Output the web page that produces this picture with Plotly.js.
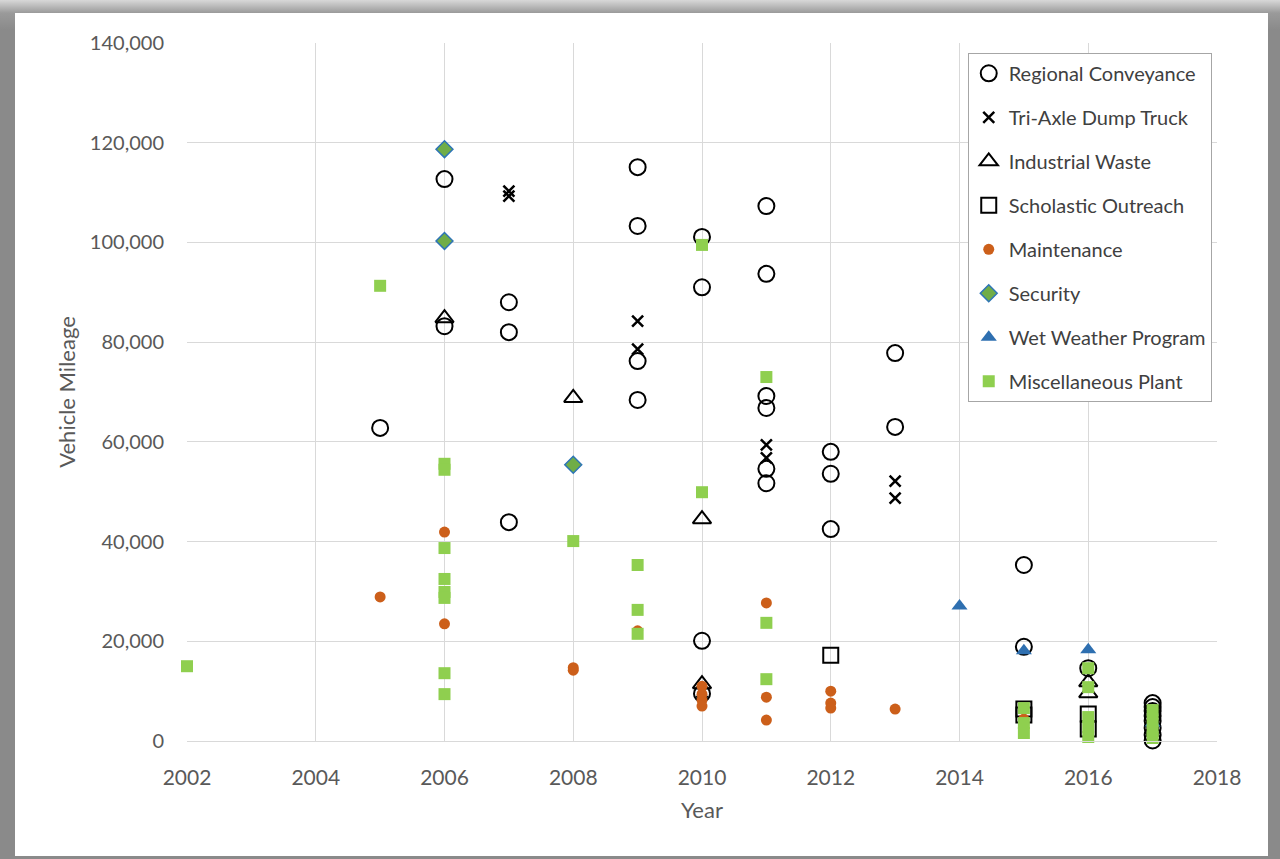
<!DOCTYPE html>
<html><head><meta charset="utf-8">
<script src="https://cdn.plot.ly/plotly-3.0.1.min.js"></script>
<style>
html,body{margin:0;padding:0;width:1280px;height:859px;overflow:hidden;background:#8a8a8a;}
body{background:linear-gradient(to bottom,#d8d8d8 0px,#9a9a9a 13px,#8a8a8a 30px);}
#frame{position:absolute;left:15px;top:13px;width:1253px;height:843px;background:#fff;}
#chart{width:1253px;height:843px;}
</style></head>
<body><div id="frame"><div id="chart"></div></div>
<script>
// Regional Conveyance
const rcX = [2005,2006,2006,2007,2007,2007,2009,2009,2009,2009,2010,2010,2010,2010,2011,2011,2011,2011,2011,2011,2012,2012,2012,2013,2013,2015,2015,2016,2017,2017,2017,2017,2017,2017,2017,2017];
const rcY = [62800,112700,83200,88000,82000,43900,115100,103300,76200,68400,101100,91000,20100,9500,107300,93700,69200,66800,54600,51700,58000,53600,42500,77800,63000,35300,18900,14600,7600,6800,6000,5000,4000,2600,1200,100];
// Tri-Axle Dump Truck
const taX = [2007,2007,2009,2009,2010,2011,2011,2013,2013,2017,2017];
const taY = [110300,109300,84200,78600,9800,59400,56800,52100,48700,3500,2000];
// Industrial Waste
const iwX = [2006,2008,2010,2010,2016,2016];
const iwY = [84800,68800,44500,11400,11800,9600];
// Scholastic Outreach
const soX = [2012,2015,2015,2016,2016];
const soY = [17200,6400,5200,5400,2400];
// Maintenance
const mtX = [2005,2006,2006,2008,2008,2009,2010,2010,2010,2010,2011,2011,2011,2012,2012,2012,2013,2015];
const mtY = [28900,41900,23500,14700,14200,22100,11000,9400,8200,7000,27700,8800,4200,10000,7600,6600,6400,4400];
// Security
const scX = [2006,2006,2008];
const scY = [118700,100300,55400];
// Wet Weather Program
const wwX = [2014,2015,2016,2017];
const wwY = [27100,18100,18300,3600];
// Miscellaneous Plant
const mpX = [2002,2005,2006,2006,2006,2006,2006,2006,2006,2006,2008,2009,2009,2009,2010,2010,2011,2011,2011,2015,2015,2015,2016,2016,2016,2016,2016,2017,2017,2017,2017];
const mpY = [15000,91300,55600,54400,38700,32500,29900,28700,13600,9400,40100,35300,26300,21500,99500,49900,73000,23700,12400,6600,3600,1600,14600,10800,4800,2800,800,6200,4000,2000,600];

const yTicks = [0,20000,40000,60000,80000,100000,120000,140000];
const xTicks = [2002,2004,2006,2008,2010,2012,2014,2016,2018];

const FONT = 'Lato, "Liberation Sans", sans-serif';
function tr(name,x,y,marker){
  return {type:'scatter',mode:'markers',name:name,x:x,y:y,marker:marker,legendgroup:name,cliponaxis:false};
}
const data = [
  tr('Regional Conveyance',rcX,rcY,{symbol:'circle-open',size:16,color:'#000',line:{width:2,color:'#000'}}),
  tr('Tri-Axle Dump Truck',taX,taY,{symbol:'x-thin-open',size:11,color:'#000',line:{width:2.5,color:'#000'}}),
  tr('Industrial Waste',iwX,iwY,{symbol:'triangle-up-open',size:16,color:'#000',line:{width:2,color:'#000'}}),
  tr('Scholastic Outreach',soX,soY,{symbol:'square-open',size:15,color:'#000',line:{width:2,color:'#000'}}),
  tr('Maintenance',mtX,mtY,{symbol:'circle',size:11,color:'#cc5f1a',line:{width:0}}),
  tr('Security',scX,scY,{symbol:'diamond',size:13,color:'#70ad47',line:{width:1.5,color:'#2e75b6'}}),
  tr('Wet Weather Program',wwX,wwY,{symbol:'triangle-up',size:14,color:'#2e6fb0',line:{width:0}}),
  tr('Miscellaneous Plant',mpX,mpY,{symbol:'square',size:12,color:'#8fcf4f',line:{width:0}})
];
const layout = {
  width:1253,height:843,
  margin:{l:172,r:51,t:30,b:115},
  paper_bgcolor:'#fff',plot_bgcolor:'#fff',
  font:{family:FONT,size:20,color:'#595959'},
  showlegend:true,
  xaxis:{range:[2002,2018],tickvals:xTicks,ticktext:xTicks.map(String),showgrid:true,gridcolor:'#d9d9d9',gridwidth:1,
    zeroline:false,showline:true,linecolor:'#d9d9d9',ticks:'',ticklabelstandoff:18,tickfont:{size:21,color:'#595959'},
    title:{text:'Year',font:{size:22,color:'#595959'},standoff:14}},
  yaxis:{range:[0,140000],tickvals:yTicks,ticktext:yTicks.map(v=>v.toLocaleString('en-US')),showgrid:true,gridcolor:'#d9d9d9',gridwidth:1,
    zeroline:false,showline:false,ticks:'',ticklabelstandoff:22,tickfont:{size:20,color:'#595959'},
    title:{text:'Vehicle Mileage',font:{size:22,color:'#595959'},standoff:8}},
  legend:{x:0.758,y:0.986,xanchor:'left',yanchor:'top',bgcolor:'#fff',bordercolor:'#a6a6a6',borderwidth:1,
    font:{size:20,color:'#404040'},tracegroupgap:15,traceorder:'grouped',itemwidth:30}
};
Plotly.newPlot('chart',data,layout,{displayModeBar:false,staticPlot:true});
</script></body></html>
